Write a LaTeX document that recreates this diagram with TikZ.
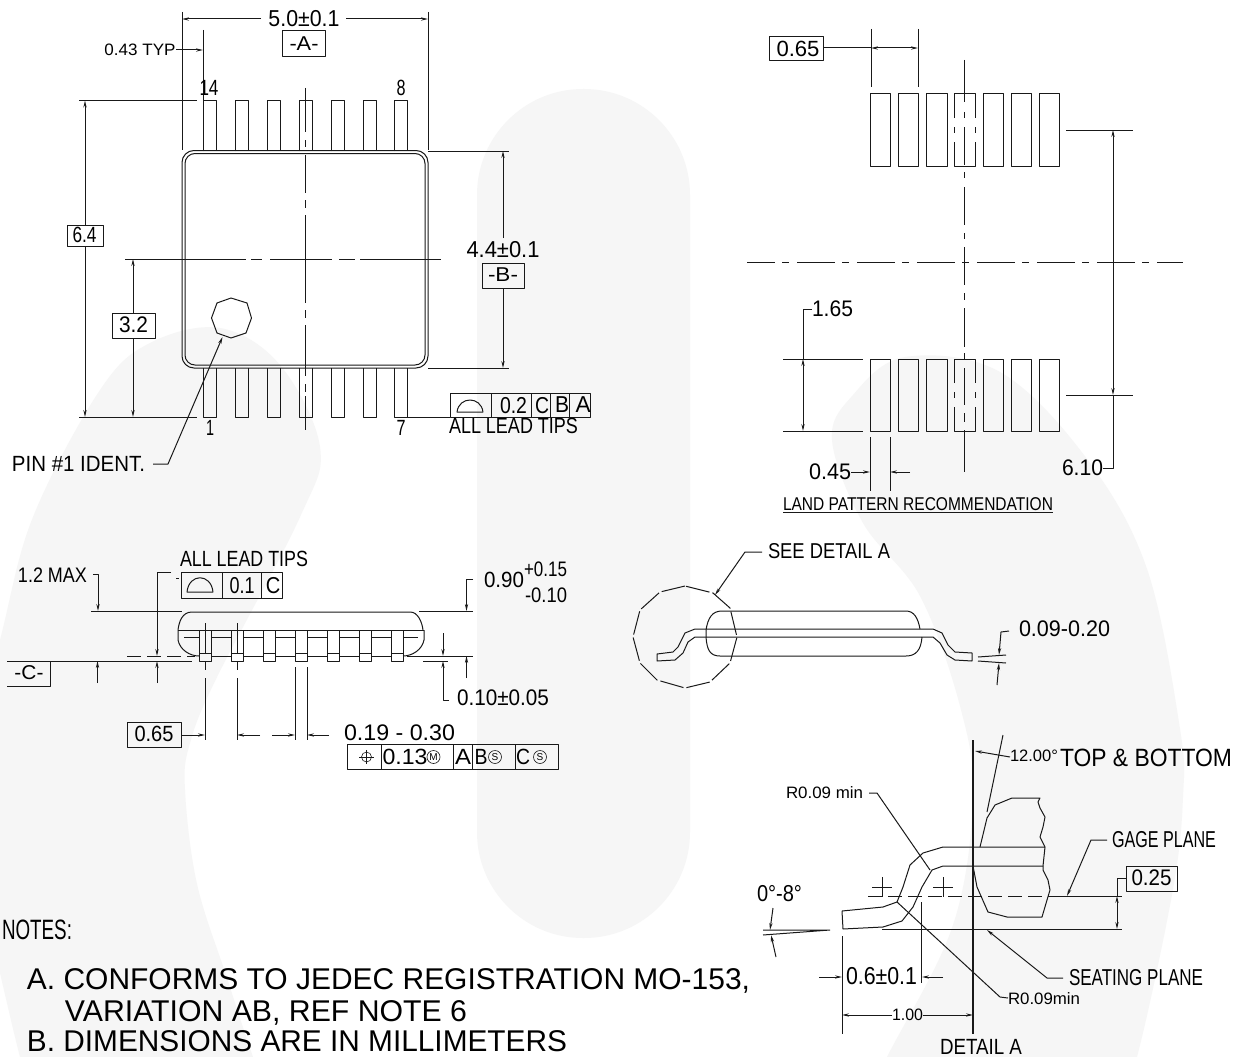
\documentclass[tikz,border=0pt]{standalone}
\usepackage{fontspec}
\usepackage{graphicx}
\setmainfont{Liberation Sans}
\usetikzlibrary{arrows.meta}
\definecolor{wm}{HTML}{F6F6F6}
\newcommand\Tx[5]{\node[inner sep=0pt,outer sep=0pt] (#1) at (#2) {\fontsize{#3}{#3}\selectfont\raisebox{0pt}[\height][0pt]{\resizebox{#4pt}{\height}{#5}}};}
\tikzset{
  ln/.style={line width=1pt,black!90,line join=round},
  thick line/.style={line width=1.5pt,black!90},
  arr/.style={ln,-{Stealth[length=7pt,width=3.2pt]}},
  arrb/.style={ln,{Stealth[length=7pt,width=3.2pt]}-{Stealth[length=7pt,width=3.2pt]}},
  centre/.style={ln,dash pattern=on 38pt off 7pt on 7pt off 8pt,dash phase=10pt},
  dashedln/.style={ln,dash pattern=on 14pt off 6pt},
  polydash/.style={ln,dash pattern=on 24pt off 3pt},
  circ/.style={circle,draw=black!90,line width=0.6pt,inner sep=0pt,minimum size=13pt,font=\fontsize{10}{10}\selectfont}
}
\begin{document}
\begin{tikzpicture}[x=1pt,y=-1pt]
\clip (0,0) rectangle (1243,1057);
\fill[white] (0,0) rectangle (1243,1057);
% watermark
\fill[wm,rounded corners=106pt] (477,89) rectangle (690,938);
\fill[wm] plot[smooth cycle,tension=0.6] coordinates {(-40,800)(0,640)(33,517)(100,390)(150,343)(220,328)(280,365)(320,447)(300,517)(217,677)(190,743)(185,790)(197,884)(227,978)(253,1057)(280,1130)(40,1130)(20,1057)(0,973)};
\fill[wm] plot[smooth cycle,tension=0.6] coordinates {(832,440)(853,395)(905,357)(1000,372)(1087,459)(1147,569)(1180,729)(1183,797)(1173,889)(1137,1057)(1110,1130)(850,1130)(887,1057)(953,925)(973,797)(960,706)(920,596)(863,523)};

%% ---------- TOP VIEW ----------
\draw[ln] (182,12)--(182,150);
\draw[ln] (428,12)--(428,150);
\draw[arr] (261,19)--(182,19);
\draw[arr] (346,19)--(428,19);
\Tx{dimA}{304,18}{23}{71}{5.0±0.1}
\draw[ln] (282,31) rectangle (325,57);
\Tx{boxA}{304,44}{20}{29}{-A-}
\Tx{typ}{140,50}{16.5}{71}{0.43 TYP}
\draw[arr] (176,50)--(203,50);
\draw[ln] (203,30)--(203,100);
\Tx{p14}{209,88}{22}{19}{14}
\Tx{p8}{401,88}{22}{9}{8}
\foreach \x in {203,235,267,299,331,363,394}{
  \draw[ln] (\x,151)--(\x,100.5)--({\x+13},100.5)--({\x+13},151);
  \draw[ln] (\x,368)--(\x,417)--({\x+13},417)--({\x+13},368);
}
\draw[ln,rounded corners=12pt] (182,150.5) rectangle (428,368);
\draw[ln,rounded corners=10pt] (185,153.5) rectangle (425,365);
\foreach \a/\b in {88/132,140/147,155/193,200/208,215/303,310/318,325/376,384/392,396/430}{
  \draw[ln] (305,\a)--(305,\b);
}
\foreach \a/\b in {125/246,251/262,270/332,339/355,360/441}{
  \draw[ln] (\a,259)--(\b,259);
}
\draw[ln] (231,298)--(247,303)--(251.5,318)--(246,333)--(231,338)--(217,333)--(211.5,318)--(217,303)--cycle;
% 6.4
\draw[ln] (79,100.5)--(197,100.5);
\draw[ln] (79,417)--(197,417);
\draw[arr] (85,225)--(85,100.5);
\draw[arr] (85,246)--(85,417);
\draw[ln] (67,225) rectangle (103,246);
\Tx{b64}{84.5,235}{22}{24}{6.4}
% 3.2
\draw[arr] (133,313)--(133,259);
\draw[arr] (133,338)--(133,417);
\draw[ln] (112,313) rectangle (155,338);
\Tx{b32}{133.5,325}{22.5}{29}{3.2}
% 4.4
\draw[ln] (428,151)--(509,151);
\draw[ln] (428,368)--(509,368);
\draw[arr] (503,238)--(503,151);
\draw[arr] (503,288)--(503,368);
\Tx{d44}{503,249}{23}{73}{4.4±0.1}
\draw[ln] (482,263) rectangle (524,288);
\Tx{boxB}{503,275}{20}{30}{-B-}
% pin 1
\Tx{pin}{78.5,464}{22}{133}{PIN \#1 IDENT.}
\draw[arr] (153,464)--(168,464)--(222.5,337);
\Tx{p1}{210,428}{22}{8}{1}
\Tx{p7}{401,428}{22}{9}{7}
% FCF top
\draw[ln] (407,417)--(450,417);
\draw[ln] (450,393) rectangle (590,417);
\draw[ln] (491,393)--(491,417) (531,393)--(531,417) (550,393)--(550,417) (569,393)--(569,417);
\draw[ln] (457,412) .. controls (459,396) and (481,396) .. (483,412) -- cycle;
\Tx{f02}{513.5,405}{23}{27}{0.2}
\Tx{fC}{542,405}{23}{14}{C}
\Tx{fB}{562,405}{23}{14}{B}
\Tx{fA}{583,405}{23}{15}{A}
\Tx{tips}{513.5,426}{22}{129}{ALL LEAD TIPS}

%% ---------- SIDE VIEW ----------
\Tx{tips2}{244,559}{22}{128}{ALL LEAD TIPS}
\draw[ln] (181,572) rectangle (282.5,598);
\draw[ln] (222.5,572)--(222.5,598) (261,572)--(261,598);
\draw[ln] (187,592) .. controls (189,573) and (211,573) .. (213,592) -- cycle;
\Tx{f01}{242,585}{23}{25}{0.1}
\Tx{fC2}{273,585}{23}{14.5}{C}
\draw[ln] (176,578)--(179,578);
\Tx{max}{52.5,575}{21}{69}{1.2 MAX}
\draw[ln] (91,611)--(182,611);
\draw[arr] (93,574)--(98,574)--(98,611);
\draw[arr] (171,572)--(157,572)--(157,656);
\draw[arr] (97.5,683)--(97.5,661);
\draw[arr] (157,683)--(157,661);
% body
\draw[ln] (178,630) .. controls (179,622) and (182,612) .. (192,612) -- (410,612) .. controls (418,612) and (422,622) .. (423,630);
\draw[ln] (178,630)--(424,630);
\draw[ln] (178,630)--(178,640) .. controls (180,650) and (190,656) .. (199,656);
\draw[ln] (424,630)--(424,640) .. controls (422,650) and (412,656) .. (403,656);
\draw[ln] (184,637)--(199,637);
\foreach \x in {199,231,263,295,327,359,391}{
  \draw[ln] (\x,630)--(\x,661)--({\x+12},661)--({\x+12},630);
  \draw[ln] (\x,653)--({\x+12},653);
}
\foreach \x/\y in {211/231,243/263,275/295,307/327,339/359,371/391}{
  \draw[ln] (\x,637)--(\y,637);
  \draw[ln] (\x,656)--(\y,656);
}
\draw[ln] (403,637)--(418,637);
\draw[dashedln] (127,656)--(195,656);
\draw[ln] (7,661)--(192,661);
\draw[ln] (7,686)--(50,686)--(50,661);
\Tx{boxC}{29,673}{20}{29}{-C-}
\foreach \x in {205,237}{
  \draw[ln] (\x,623)--(\x,653);
  \draw[ln] (\x,662)--(\x,670);
  \draw[ln] (\x,678)--(\x,740);
}
\draw[ln] (419,611)--(473,611);
\draw[arr] (473,579)--(466.5,579)--(466.5,611);
\Tx{d090}{504,580}{22}{40}{0.90}
\Tx{dpl}{545.5,569}{21}{43}{+0.15}
\Tx{dmi}{546,595}{21}{42}{-0.10}
\draw[ln] (407,656)--(473,656);
\draw[ln] (423,656)--(448,656) (423,661)--(448,661);
\draw[arr] (443,633)--(443,656);
\draw[arr] (449,700)--(443,700)--(443,661);
\draw[arr] (466.5,678)--(466.5,656);
\Tx{d010}{503,698}{22.5}{92}{0.10±0.05}
\draw[ln] (127,722) rectangle (181,747);
\Tx{b065}{154,734}{22}{39}{0.65}
\draw[arr] (181,735)--(205,735);
\draw[arr] (260,735)--(237,735);
\draw[arr] (272,735)--(295,735);
\draw[arr] (329,735)--(307,735);
\draw[ln] (295,667)--(295,740) (307,667)--(307,740);
\Tx{d019}{399.5,733}{22.5}{111}{0.19 - 0.30}
\draw[ln] (347,744) rectangle (558,769);
\draw[ln] (381,744)--(381,769) (453,744)--(453,769) (472,744)--(472,769) (515,744)--(515,769);
\draw[ln,line width=0.6pt] (366.5,757) circle (5);
\draw[ln,line width=0.6pt] (359,757)--(374,757) (366.5,750)--(366.5,764);
\Tx{f013}{405,757}{22}{45}{0.13}
\node[circ] (cM) at (433.5,757) {M};
\Tx{fA2}{463,757}{22}{16}{A}
\Tx{fB2}{481,757}{22}{13}{B}
\node[circ] (cS1) at (495,757) {S};
\Tx{fC3}{523,757}{22}{14}{C}
\node[circ] (cS2) at (540,757) {S};

%% ---------- LAND PATTERN ----------
\draw[ln] (769,37) rectangle (823,61);
\Tx{lp065}{798,49}{22}{43}{0.65}
\draw[ln] (823,48)--(871,48);
\draw[arrb] (871,48)--(918,48);
\draw[ln] (871,29)--(871,87) (918,29)--(918,87);
\foreach \x/\w in {870/20,898/20,926/21,983/20,1011/20,1039/20}{
  \draw[ln] (\x,94) rectangle ({\x+\w},166);
  \draw[ln] (\x,359) rectangle ({\x+\w},431);
}
% centre pads: side lines are broken
\draw[ln] (954,118)--(954,94)--(975,94)--(975,118);
\draw[ln] (954,142)--(954,166)--(975,166)--(975,142);
\draw[ln] (954,127)--(954,133) (975,127)--(975,133);
\draw[ln] (954,383)--(954,359)--(975,359)--(975,383);
\draw[ln] (954,407)--(954,431)--(975,431)--(975,407);
\draw[ln] (954,392)--(954,398) (975,392)--(975,398);
\foreach \a/\b in {60/102,112/118,127/165,172/178,187/225,233/239,247/285,293/300,308/347,353/360,368/405,413/422,430/472}{
  \draw[ln] (964,\a)--(964,\b);
}
\draw[centre] (747,262)--(1183,262);
\draw[ln] (1066,130)--(1133,130);
\draw[ln] (1066,395)--(1133,395);
\draw[arrb] (1113,130)--(1113,395);
\draw[ln] (1113,395)--(1113,468)--(1103,468);
\Tx{d610}{1082.5,468}{22.5}{41}{6.10}
\draw[ln] (812,309)--(803,309)--(803,359);
\draw[arrb] (803,359)--(803,431);
\Tx{d165}{832.5,309}{22.5}{41}{1.65}
\draw[ln] (783,359)--(863,359) (783,431)--(863,431);
\Tx{d045}{830,472}{22.5}{42}{0.45}
\draw[arr] (851,472)--(870,472);
\draw[arr] (910,472)--(890,472);
\draw[ln] (870,437)--(870,491) (890,437)--(890,491);
\Tx{lpr}{918,504}{18.5}{270}{LAND PATTERN RECOMMENDATION}
\draw[ln] (783,512.5)--(1053,512.5);

%% ---------- SIDE ELEVATION ----------
\Tx{see}{829,551}{21.5}{122}{SEE DETAIL A}
\draw[arr] (762,552)--(745,552)--(715,595);
\draw[polydash] (685,586)--(660,592)--(640,610)--(633,637)--(640,663)--(657,680)--(685,688)--(710,682)--(730,663)--(737,637)--(730,608)--(713,593)--cycle;
\draw[ln] (706,630) .. controls (708,618) and (712,611) .. (722,611) -- (906,611) .. controls (914,611) and (918,618) .. (920,629);
\draw[ln] (706,630)--(706,637) .. controls (707,650) and (710,656) .. (720,656) -- (906,656) .. controls (916,656) and (921,650) .. (922,637);
\draw[ln] (657,654)--(673,652)--(678,647)--(685,633)--(695,629)--(933,629)--(942,633)--(948,645)--(955,652)--(972,653)--(972,661)--(955,660)--(947,655)--(940,643)--(933,637)--(695,637)--(688,642)--(683,653)--(675,660)--(657,661)--cycle;
\draw[ln] (978,657)--(1006,655) (978,661)--(1006,663);
\draw[arr] (1009,631)--(1001,632)--(999,655);
\draw[arr] (997,685)--(999,663);
\Tx{d009}{1064.5,629}{22.5}{91}{0.09-0.20}

%% ---------- DETAIL A ----------
\draw[thick line] (973,740)--(973,1034);
\draw[ln] (1003,735)--(987,812);
\draw[arr] (1010,757)--(975,751);
\Tx{d12}{1034,756}{16.5}{48}{12.00°}
\Tx{tb}{1146,758}{25}{172}{TOP \& BOTTOM}
\Tx{r1}{824.5,793}{16.5}{77}{R0.09 min}
\draw[ln] (869,793)--(877,793)--(930,870);
\draw[ln] (1045,847)--(943,847)--(923,853)--(910,865)--(903,887)--(897,902)--(883,907)--(842,911)--(843,929)--(883,927)--(902,921)--(913,907)--(922,887)--(932,870)--(943,866)--(1043,866);
\draw[ln] (980,847)--(987,818)--(995,805)--(1012,798)--(1040,798)--(1038,802)--(1040,808)--(1045,817)--(1043,827)--(1040,837)--(1045,847)--(1043,866)--(1043,870)--(1048,880)--(1050,890)--(1047,900)--(1042,917)--(1007,917)--(988,912)--(977,887)--(973,866);
\draw[ln] (872,887)--(892,887) (882,877)--(882,897);
\draw[ln] (933,887)--(953,887) (943,877)--(943,897);
\draw[dashedln] (868,896)--(1048,896);
\draw[ln] (1048,896)--(1122,896);
\draw[ln] (882,929.5)--(1122,929.5);
\draw[ln] (763,930)--(830,930) (763,935)--(830,930);
\Tx{ang}{779.5,893}{23}{45}{0°-8°}
\draw[arr] (773,908)--(770,930);
\draw[arr] (776,957)--(771,935);
\Tx{d06}{881.5,976}{24.5}{71}{0.6±0.1}
\draw[arr] (819,977)--(842,977);
\draw[arr] (943,977)--(922,977);
\draw[ln] (842,936)--(842,1034);
\draw[ln] (921,902)--(921,983);
\draw[arr] (892,1015)--(842,1015);
\draw[arr] (923,1015)--(973,1015);
\Tx{d100}{907.5,1015}{16.5}{31}{1.00}
\draw[ln] (897,902)--(1000,997)--(1008,998);
\Tx{r2}{1044,999}{16.5}{72}{R0.09min}
\Tx{seat}{1136,977}{23}{134}{SEATING PLANE}
\draw[arr] (1063,978)--(1047,978)--(987,930);
\Tx{gage}{1164,839}{23}{104}{GAGE PLANE}
\draw[arr] (1107,840)--(1091,840)--(1067,896);
\draw[ln] (1126,866) rectangle (1177,891);
\Tx{b025}{1151.5,878}{22.5}{40}{0.25}
\draw[ln] (1126,878)--(1117,878)--(1117,896);
\draw[arrb] (1117,896)--(1117,929);
\Tx{det}{981,1047}{22}{82}{DETAIL A}

%% ---------- NOTES ----------
\Tx{notes}{37,930}{28}{70}{NOTES:}
\Tx{na}{388.5,979}{30}{723}{A. CONFORMS TO JEDEC REGISTRATION MO-153,}
\Tx{nb}{266,1011}{30}{402}{VARIATION AB, REF NOTE 6}
\Tx{nc}{297,1041}{30}{540}{B. DIMENSIONS ARE IN MILLIMETERS}
\end{tikzpicture}
\end{document}
